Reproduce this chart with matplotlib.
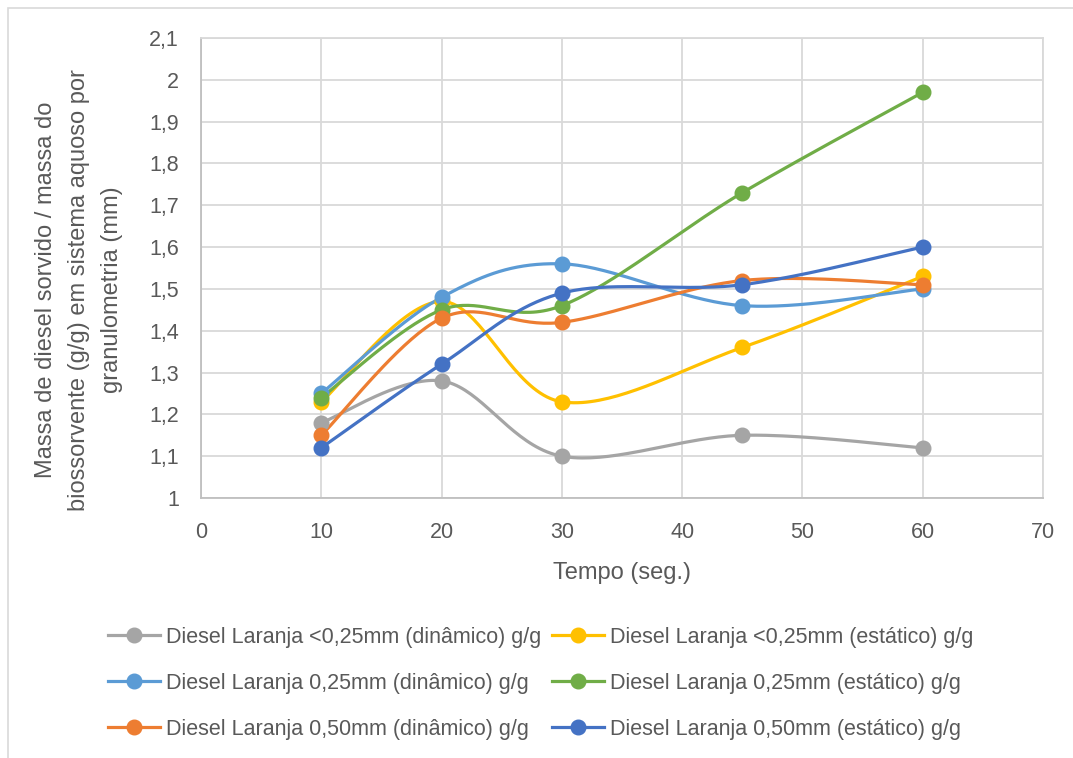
import numpy as np
import matplotlib.pyplot as plt
from matplotlib.patches import Rectangle
from matplotlib.ticker import FuncFormatter

plt.rcParams['font.family'] = ['Liberation Sans', 'DejaVu Sans']

# Tempo (seg.)
tempo = [10, 20, 30, 45, 60]

# Massa sorvida (g/g) por série
labels = [
    'Diesel Laranja <0,25mm (dinâmico) g/g',
    'Diesel Laranja <0,25mm (estático) g/g',
    'Diesel Laranja 0,25mm (dinâmico) g/g',
    'Diesel Laranja 0,25mm (estático) g/g',
    'Diesel Laranja 0,50mm (dinâmico) g/g',
    'Diesel Laranja 0,50mm (estático) g/g',
]
menor025_din = [1.18, 1.28, 1.10, 1.15, 1.12]
menor025_est = [1.23, 1.47, 1.23, 1.36, 1.53]
g025_din = [1.25, 1.48, 1.56, 1.46, 1.50]
g025_est = [1.24, 1.45, 1.46, 1.73, 1.97]
g050_din = [1.15, 1.43, 1.42, 1.52, 1.51]
g050_est = [1.12, 1.32, 1.49, 1.51, 1.60]
series = [menor025_din, menor025_est, g025_din, g025_est, g050_din, g050_est]
colors = ['#A5A5A5', '#FFC000', '#5B9BD5', '#70AD47', '#ED7D31', '#4472C4']

txt = '#595959'


def smooth(xs, ys, n=40):
    # curva suavizada tipo Excel (Bezier com pontos de controle Catmull-Rom)
    p = np.column_stack([xs, ys]).astype(float)
    p = np.vstack([p[0], p, p[-1]])
    out = []
    t = np.linspace(0, 1, n)[:, None]
    for i in range(1, len(p) - 2):
        p0, p3 = p[i], p[i + 1]
        c1 = p0 + (p[i + 1] - p[i - 1]) / 6
        c2 = p3 - (p[i + 2] - p[i]) / 6
        seg = ((1 - t) ** 3) * p0 + 3 * ((1 - t) ** 2) * t * c1 + 3 * (1 - t) * t ** 2 * c2 + t ** 3 * p3
        out.append(seg)
    out = np.vstack(out)
    return out[:, 0], out[:, 1]


W, H = 1073, 758
fig = plt.figure(figsize=(W / 100, H / 100), dpi=100)
ax = fig.add_axes([201 / W, 1 - 498 / H, (1043 - 201) / W, (498 - 38) / H])

fig.patches.append(Rectangle((8 / W, -0.1), 1.2, 1 - 8 / H + 0.1, transform=fig.transFigure,
                             fill=False, edgecolor='#D9D9D9', linewidth=1.2))

handles = []
for ys, c, lab in zip(series, colors, labels):
    sx, sy = smooth(tempo, ys)
    ax.plot(sx, sy, color=c, linewidth=2.3, solid_capstyle='round', zorder=3)
    ax.plot(tempo, ys, linestyle='none', marker='o', markersize=10.5, color=c, zorder=4)
    h, = ax.plot([], [], color=c, linewidth=2.3, marker='o', markersize=10.5, label=lab)
    handles.append(h)

ax.set_xlim(0, 70)
ax.set_ylim(1, 2.1)
ax.set_xticks(np.arange(0, 71, 10))
ax.set_yticks(np.round(np.arange(1, 2.11, 0.1), 1))
ax.yaxis.set_major_formatter(FuncFormatter(lambda v, p: ('%g' % round(v, 1)).replace('.', ',')))
ax.grid(True, color='#D9D9D9', linewidth=1.3)
ax.set_axisbelow(True)
ax.tick_params(length=0, labelsize=15.5, colors=txt)
ax.tick_params(axis='y', pad=16)
ax.tick_params(axis='x', pad=17)
for s in ['top', 'right']:
    ax.spines[s].set_color('#D9D9D9')
    ax.spines[s].set_linewidth(1.3)
for s in ['left', 'bottom']:
    ax.spines[s].set_color('#BFBFBF')
    ax.spines[s].set_linewidth(1.3)

ax.set_xlabel('Tempo (seg.)', fontsize=17, color=txt, labelpad=14)
fig.text(79 / W, 1 - 290 / H,
         'Massa de diesel sorvido / massa do\nbiossorvente (g/g) em sistema aquoso por\ngranulometria (mm)',
         rotation=90, ha='center', va='center', multialignment='center',
         fontsize=17, color=txt, linespacing=1.62)

leg_kw = dict(loc='upper left', frameon=False, fontsize=15.5, labelcolor=txt,
              handlelength=2.4, handletextpad=0.3, labelspacing=1.15, borderaxespad=0, borderpad=0)
leg1 = fig.legend(handles=handles[0::2], bbox_to_anchor=(108 / W, 1 - 627 / H), **leg_kw)
leg2 = fig.legend(handles=handles[1::2], bbox_to_anchor=(552 / W, 1 - 627 / H), **leg_kw)

fig.savefig('out.png', dpi=100)
